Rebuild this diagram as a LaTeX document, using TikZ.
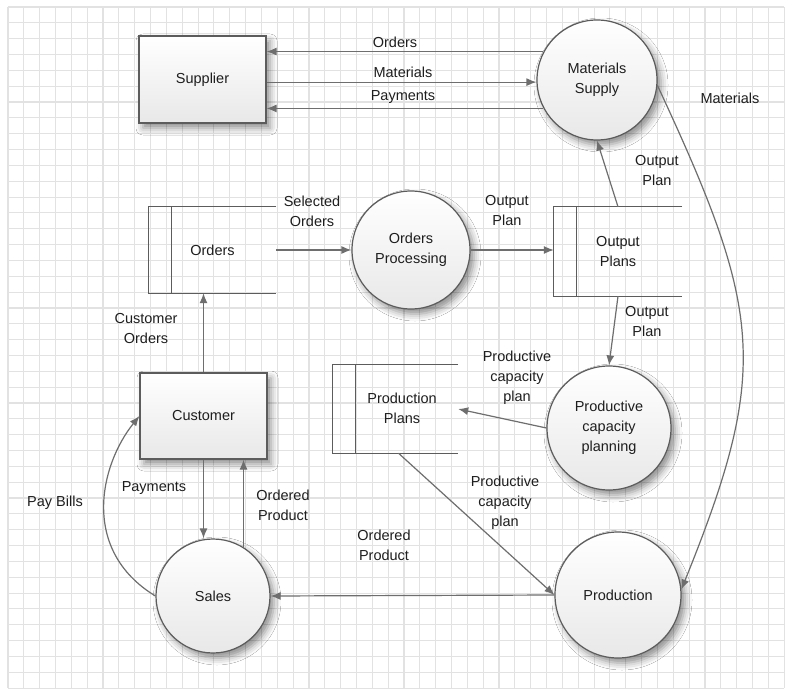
\documentclass[tikz,border=0pt]{standalone}
\usepackage{fontspec}
\setmainfont{Liberation Sans}
\usetikzlibrary{arrows.meta,shadows.blur,calc}
\definecolor{gridc}{HTML}{E2E2E2}
\definecolor{linec}{HTML}{6E6E6E}
\definecolor{edgec}{HTML}{5C5C5C}
\definecolor{fillc}{HTML}{E8E8E8}
\definecolor{txtc}{HTML}{1E1E1E}
\begin{document}
\begin{tikzpicture}[x=1pt,y=-1pt,
  font=\fontsize{14.5}{20}\selectfont, text=txtc,
  shadowed/.style={blur shadow={shadow xshift=4pt,shadow yshift=-5pt,shadow blur radius=7pt,shadow opacity=45}},
  entity/.style={rectangle, draw=edgec, line width=1.2pt, top color=white, bottom color=fillc, shadowed, align=center, inner sep=0pt},
  proc/.style={circle, draw=edgec, line width=1.2pt, top color=white, bottom color=fillc, shadowed, align=center, inner sep=0pt},
  storebox/.style={rectangle, inner sep=0pt, align=center},
  lbl/.style={align=center, inner sep=0pt},
  arr/.style={draw=linec, line width=1.2pt, -{Latex[length=10pt,width=8pt]}},
  frame/.style={draw=edgec, line width=1.2pt},
  gridline/.style={draw=gridc, line width=1.1pt},
]
\fill[white] (0,0) rectangle (790,695);
\useasboundingbox (0,0) rectangle (790,695);
% grid
\foreach \i in {0,...,49} \draw[gridline] ({8+\i*15.84},7) -- ({8+\i*15.84},688);
\foreach \j in {0,...,43} \draw[gridline] (8,{7+\j*15.84}) -- (784,{7+\j*15.84});

% external entities
\node[entity, minimum width=127pt, minimum height=87pt] (sup) at (202.5,79.5) {Supplier};
\node[entity, minimum width=127pt, minimum height=86pt] (cus) at (203.5,416) {Customer};

% processes
\node[proc, minimum size=120pt] (ms) at (597,80) {Materials\\Supply};
\node[proc, minimum size=118pt] (opr) at (411,250) {Orders\\Processing};
\node[proc, minimum size=124pt] (pcp) at (609,428) {Productive\\capacity\\planning};
\node[proc, minimum size=126pt] (prod) at (618,595) {Production};
\node[proc, minimum size=114pt] (sales) at (213,596) {Sales};

% data stores
\node[storebox, minimum width=127pt, minimum height=86pt] (ord) at (212.5,250) {Orders};
\node[storebox, minimum width=128pt, minimum height=89pt] (op) at (618,251.5) {Output\\Plans};
\node[storebox, minimum width=125pt, minimum height=88pt] (pp) at (395.5,409) {};
\node[lbl] (ppt) at (402,408) {Production\\Plans};
\foreach \s in {ord,op,pp}{
  \draw[frame] (\s.north east) -- (\s.north west) -- (\s.south west) -- (\s.south east);
  \draw[frame] ([xshift=23pt]\s.north west) -- ([xshift=23pt]\s.south west);
}

% labels
\node[lbl] (lOrd) at (395,42) {Orders};
\node[lbl] (lMat) at (403,72) {Materials};
\node[lbl] (lPay) at (403,97) {Payments};
\node[lbl] (lMat2) at (730,98) {Materials};
\node[lbl] (lOP1) at (657,171) {Output\\Plan};
\node[lbl] (lSel) at (312,211) {Selected\\Orders};
\node[lbl] (lOP2) at (507,211) {Output\\Plan};
\node[lbl] (lOP3) at (647,322) {Output\\Plan};
\node[lbl] (lPcp1) at (517,378) {Productive\\capacity\\plan};
\node[lbl] (lCO) at (146,329) {Customer\\Orders};
\node[lbl] (lPcp2) at (505,503) {Productive\\capacity\\plan};
\node[lbl] (lOrdP) at (384,545) {Ordered\\Product};
\node[lbl] (lPayB) at (55,503) {Pay Bills};
\node[lbl] (lPaym) at (154,488) {Payments};
\node[lbl] (lOrdP2) at (283,505) {Ordered\\Product};

% connectors
\draw[arr] (ms.152) -- (sup.east |- ms.152);
\draw[arr] (sup.east |- ms.182) -- (ms.182);
\draw[arr] (ms.208) -- (sup.east |- ms.208);
\draw[arr] (ms.-5) .. controls (763,312) and (770,370) .. (prod.5);
\draw[arr] (op.north) -- (ms.south);
\draw[arr] (ord.east) -- (opr.west);
\draw[arr] (opr.east) -- (op.west |- opr.east);
\draw[arr] (op.south) -- (pcp.north);
\draw[arr] (pcp.west) -- (pp.east);
\draw[arr] ([xshift=3pt]pp.south) -- (prod.west);
\draw[arr] (prod.west) -- (sales.east);
\draw[arr] (cus.north) -- (cus.north |- ord.south);
\draw[arr] (cus.south) -- (cus.south |- sales.north);
\draw[arr] (sales.58) -- (sales.58 |- cus.south);
\draw[arr] (sales.west) .. controls (80,550) and (100,465) .. (cus.west);
\end{tikzpicture}
\end{document}
